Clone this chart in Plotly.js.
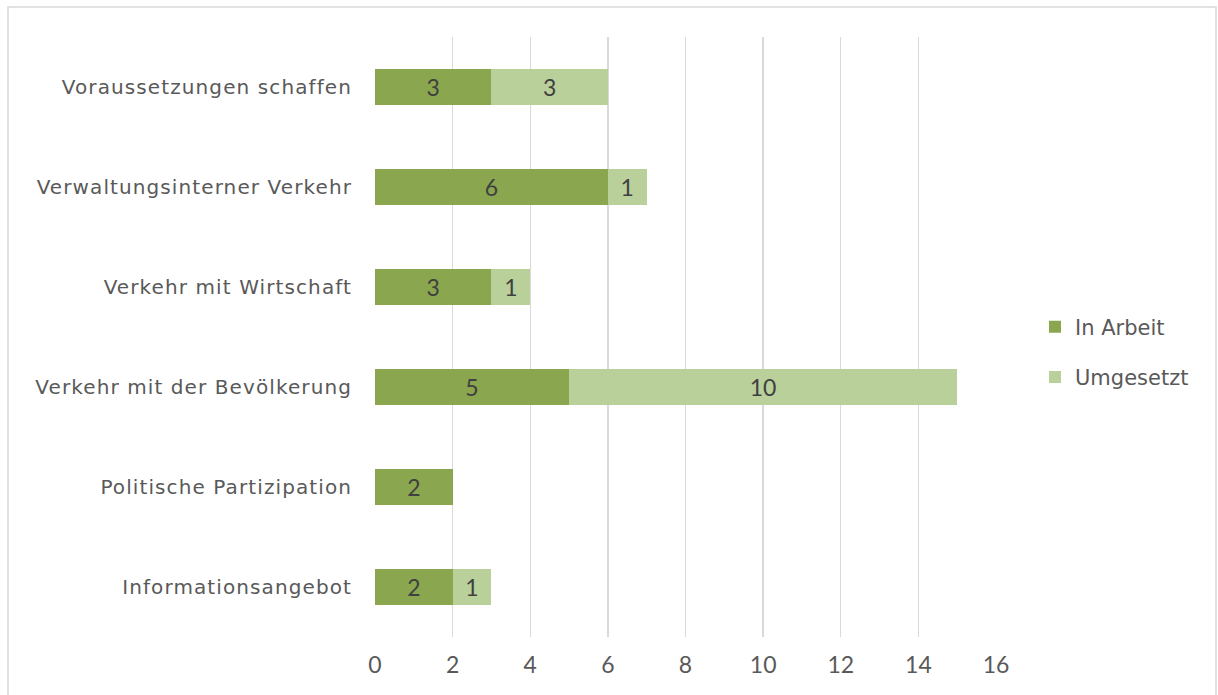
<!DOCTYPE html>
<html>
<head>
<meta charset="utf-8">
<script src="https://cdn.plot.ly/plotly-3.0.1.min.js"></script>
<style>
html,body{margin:0;padding:0;background:#fff;}
#chart{width:1218px;height:695px;}
#chart .ytick text{letter-spacing:1.1px;}
</style>
</head>
<body>
<div id="chart"></div>
<script>
const categories = ["Voraussetzungen schaffen","Verwaltungsinterner Verkehr","Verkehr mit Wirtschaft","Verkehr mit der Bevölkerung","Politische Partizipation","Informationsangebot"];
const inArbeit = [3, 6, 3, 5, 2, 2];
const umgesetzt = [3, 1, 1, 10, null, 1];
const xTicks = [0, 2, 4, 6, 8, 10, 12, 14, 16];

const WIDE = "'DejaVu Sans', sans-serif";
const NUM = "Lato, sans-serif";
const cats = categories.slice().reverse();
const a = inArbeit.slice().reverse();
const u = umgesetzt.slice().reverse();

const traces = [
  {type:'bar', orientation:'h', name:'In Arbeit', y:cats, x:a, legendgroup:'g1',
   marker:{color:'#8AA64E'}, text:a.map(String), textposition:'inside',
   insidetextanchor:'middle', textfont:{color:'#404040', size:23, family:NUM},
   hoverinfo:'x+name'},
  {type:'bar', orientation:'h', name:'Umgesetzt', y:cats, x:u, legendgroup:'g2',
   marker:{color:'#B9D09A'}, text:u.map(v=>v==null?'':String(v)), textposition:'inside',
   insidetextanchor:'middle', textfont:{color:'#404040', size:23, family:NUM},
   hoverinfo:'x+name'}
];

const L=375, R=996, T=37, B=637;
const W=R-L, H=B-T;
const layout = {
  width:1218, height:695,
  margin:{l:L, r:1218-R, t:T, b:695-B},
  barmode:'stack', bargap:0.64,
  paper_bgcolor:'#fff', plot_bgcolor:'#fff',
  font:{family:WIDE, color:'#595959', size:20},
  xaxis:{range:[0,16], tickvals:xTicks, ticktext:xTicks.map(String),
    showgrid:true, gridcolor:'#D9D9D9', gridwidth:1.3, zeroline:false,
    showline:false, ticks:'', tickfont:{size:23, color:'#595959', family:NUM}, ticklabelstandoff:12, fixedrange:true},
  yaxis:{showgrid:false, zeroline:false, showline:false, ticks:'',
    tickfont:{size:20, color:'#595959', family:WIDE}, ticklabelstandoff:22, fixedrange:true},
  legend:{x:(1035-L)/W, y:(B-352)/H, xanchor:'left', yanchor:'middle',
    font:{size:21, color:'#595959', family:WIDE}, traceorder:'grouped', tracegroupgap:20, itemwidth:30,
    bgcolor:'rgba(0,0,0,0)'},
  showlegend:true,
  shapes:[{type:'rect', xref:'paper', yref:'paper',
    x0:(8-L)/W, x1:(1216-L)/W, y0:(B-700)/H, y1:(B-7)/H,
    line:{color:'#D9D9D9', width:1.5}, fillcolor:'rgba(0,0,0,0)', layer:'below'}]
};

Plotly.newPlot('chart', traces, layout, {displayModeBar:false, staticPlot:true});
</script>
</body>
</html>
